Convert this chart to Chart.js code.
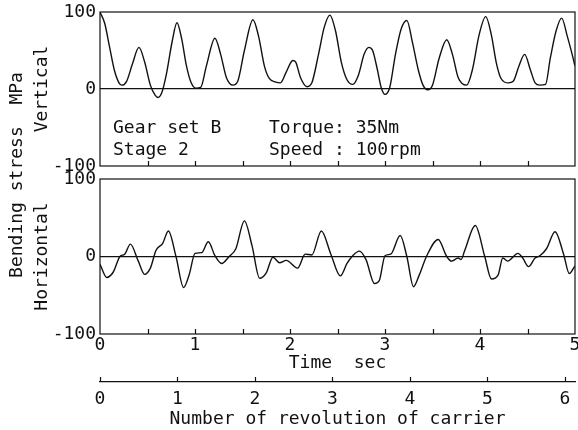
<!DOCTYPE html>
<html>
<head>
<meta charset="utf-8">
<script src="https://cdn.jsdelivr.net/npm/chart.js@4.4.1/dist/chart.umd.min.js"></script>
<style>
  html, body { margin: 0; padding: 0; background: #fff; }
  #wrap { position: relative; width: 578px; height: 430px; }
  canvas { position: absolute; left: 0; top: 0; }
</style>
</head>
<body>
<div id="wrap">
  <canvas id="topChart" width="578" height="430"></canvas>
  <canvas id="bottomChart" width="578" height="430"></canvas>
</div>
<script>
// vertical bending stress (MPa) vs time (sec)
const timeTop = [0.00,0.05,0.10,0.15,0.20,0.23,0.28,0.34,0.41,0.47,0.53,0.58,0.61,0.65,0.70,0.76,0.81,0.86,0.91,0.96,
  1.01,1.06,1.12,1.21,1.27,1.33,1.40,1.45,1.52,1.61,1.67,1.73,1.78,1.85,1.90,1.96,2.03,2.06,2.11,2.18,
  2.23,2.30,2.36,2.42,2.48,2.54,2.60,2.66,2.72,2.78,2.83,2.87,2.92,2.96,3.00,3.05,3.11,3.17,3.23,3.29,
  3.35,3.40,3.45,3.50,3.57,3.65,3.71,3.77,3.86,3.92,3.99,4.06,4.12,4.17,4.22,4.30,4.35,4.41,4.47,4.53,
  4.58,4.63,4.69,4.74,4.80,4.86,4.92,4.97,5.00];
const vertical = [100,85,55,25,8,5,10,32,54,35,5,-8,-11,-5,20,62,86,65,30,8,
  1,2,30,66,45,15,5,10,50,90,68,30,14,9,8,22,37,35,15,3,
  8,45,80,96,75,35,12,6,18,45,54,50,25,2,-7,2,45,78,89,60,
  25,5,-1,5,40,64,45,15,5,25,70,94,70,35,14,8,10,30,45,25,
  8,5,6,40,75,92,68,45,30];

// horizontal bending stress (MPa) vs time (sec)
const timeBottom = [0.00,0.07,0.14,0.21,0.26,0.32,0.40,0.47,0.53,0.59,0.66,0.72,0.80,0.88,0.94,1.00,1.07,1.14,1.21,1.28,
  1.36,1.43,1.52,1.60,1.68,1.75,1.82,1.89,1.96,2.08,2.16,2.23,2.33,2.43,2.53,2.60,2.66,2.73,2.80,2.89,
  2.94,3.00,3.06,3.16,3.23,3.30,3.36,3.44,3.56,3.65,3.70,3.77,3.80,3.84,3.95,4.05,4.12,4.19,4.24,4.29,
  4.40,4.45,4.51,4.58,4.63,4.70,4.79,4.88,4.94,5.00];
const horizontal = [-10,-27,-20,0,3,16,-5,-23,-15,8,17,33,0,-40,-23,4,5,19,1,-9,
  0,10,46,14,-28,-21,-1,-8,-5,-15,3,2,33,3,-25,-9,1,7,-4,-35,
  -31,1,3,27,0,-39,-24,1,22,0,-6,-2,-4,8,40,0,-29,-24,-2,-6,
  4,-2,-13,-2,1,10,32,3,-22,-12];

const stressTicks = [-100, 0, 100];
const timeTicks = [0, 1, 2, 3, 4, 5];
const timeTickMarks = [0.5, 1, 1.5, 2, 2.5, 3, 3.5, 4, 4.5];
const revolutionTicks = [0, 1, 2, 3, 4, 5, 6];
const revolutionMax = 6.13;

const ink = '#111';
const mono = "'DejaVu Sans Mono', 'Liberation Mono', monospace";
Chart.defaults.font.family = mono;
Chart.defaults.font.size = 18;
Chart.defaults.color = ink;

const toPoints = (xs, ys) => xs.map((x, i) => ({ x: x, y: ys[i] }));

// box round the panel and small inward ticks on its bottom edge
const panelBox = {
  id: 'panelBox',
  afterDatasetsDraw(chart) {
    const { ctx, chartArea: a } = chart;
    const xs = chart.scales.x;
    ctx.save();
    ctx.strokeStyle = ink;
    ctx.lineWidth = 1.2;
    ctx.strokeRect(a.left, a.top, a.right - a.left, a.bottom - a.top);
    ctx.beginPath();
    timeTickMarks.forEach(v => {
      const px = Math.round(xs.getPixelForValue(v)) + 0.5;
      ctx.moveTo(px, a.bottom);
      ctx.lineTo(px, a.bottom - 5);
    });
    ctx.stroke();
    ctx.restore();
  }
};

const topLabels = {
  id: 'topLabels',
  afterDraw(chart) {
    const ctx = chart.ctx;
    ctx.save();
    ctx.fillStyle = ink;
    ctx.font = '18px ' + mono;
    ctx.textBaseline = 'middle';
    ctx.textAlign = 'left';
    ctx.fillText('Gear set B', 113, 128);
    ctx.fillText('Torque: 35Nm', 269, 128);
    ctx.fillText('Stage 2', 113, 150);
    ctx.fillText('Speed : 100rpm', 269, 150);
    ctx.translate(17, 175);
    ctx.rotate(-Math.PI / 2);
    ctx.textAlign = 'center';
    ctx.fillText('Bending stress  MPa', 0, 0);
    ctx.restore();
  }
};

const revolutionMarks = {
  id: 'revolutionMarks',
  afterDraw(chart) {
    const { ctx } = chart;
    const s = chart.scales.x2;
    ctx.save();
    ctx.strokeStyle = ink;
    ctx.lineWidth = 1.2;
    ctx.beginPath();
    revolutionTicks.forEach(v => {
      const px = Math.round(s.getPixelForValue(v)) + 0.5;
      ctx.moveTo(px, s.top);
      ctx.lineTo(px, s.top - 5);
    });
    ctx.stroke();
    ctx.restore();
  }
};

function stressAxis(title) {
  return {
    min: -100, max: 100,
    afterBuildTicks: s => { s.ticks = stressTicks.map(v => ({ value: v })); },
    afterFit: s => { s.width = 100; s.paddingTop = 0; s.paddingBottom = 0; },
    ticks: { padding: 4, font: { size: 18 } },
    grid: {
      drawTicks: false,
      lineWidth: 1.2,
      color: c => (c.tick && c.tick.value === 0) ? ink : 'rgba(0,0,0,0)'
    },
    border: { display: false },
    title: { display: true, text: title, padding: { top: 32, bottom: 0 }, font: { size: 18 } }
  };
}

function lineDataset(xs, ys) {
  return {
    data: toPoints(xs, ys),
    borderColor: ink,
    borderWidth: 1.4,
    pointRadius: 0,
    fill: false,
    cubicInterpolationMode: 'monotone'
  };
}

new Chart(document.getElementById('topChart'), {
  type: 'line',
  data: { datasets: [lineDataset(timeTop, vertical)] },
  options: {
    responsive: false,
    animation: false,
    layout: { padding: { top: 12, bottom: 430 - 166, left: 0, right: 3 } },
    plugins: { legend: { display: false }, tooltip: { enabled: false } },
    scales: {
      x: { type: 'linear', min: 0, max: 5, display: false },
      y: stressAxis('Vertical')
    }
  },
  plugins: [panelBox, topLabels]
});

new Chart(document.getElementById('bottomChart'), {
  type: 'line',
  data: { datasets: [lineDataset(timeBottom, horizontal)] },
  options: {
    responsive: false,
    animation: false,
    layout: { padding: { top: 179, bottom: 0, left: 0, right: 3 } },
    plugins: { legend: { display: false }, tooltip: { enabled: false } },
    scales: {
      x: {
        type: 'linear', min: 0, max: 5, position: 'bottom', weight: 0,
        afterBuildTicks: s => { s.ticks = timeTicks.map(v => ({ value: v })); },
        afterFit: s => { s.height = 48; s.paddingLeft = 0; s.paddingRight = 0; },
        ticks: { padding: 1, maxRotation: 0, autoSkip: false },
        grid: { display: false, drawTicks: false },
        border: { display: false },
        title: { display: true, text: 'Time  sec', padding: { top: 0, bottom: 8 } }
      },
      x2: {
        type: 'linear', min: 0, max: revolutionMax, position: 'bottom', weight: 1,
        afterBuildTicks: s => { s.ticks = revolutionTicks.map(v => ({ value: v })); },
        afterFit: s => { s.height = 48; s.paddingLeft = 0; s.paddingRight = 0; },
        ticks: { padding: 7, maxRotation: 0, autoSkip: false },
        grid: { display: false, drawTicks: false },
        border: { display: true, color: ink, width: 1.2 },
        title: { display: true, text: 'Number of revolution of carrier', padding: { top: 2, bottom: 0 } }
      },
      y: stressAxis('Horizontal')
    }
  },
  plugins: [panelBox, revolutionMarks]
});
</script>
</body>
</html>
